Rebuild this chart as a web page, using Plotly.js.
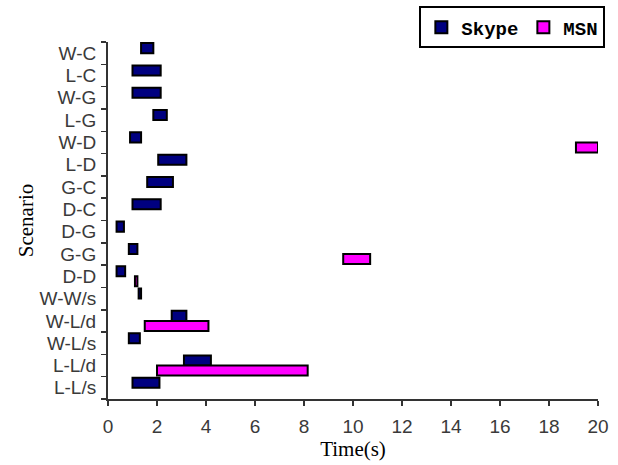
<!DOCTYPE html>
<html>
<head>
<meta charset="utf-8">
<script src="https://cdn.plot.ly/plotly-3.0.1.min.js"></script>
<style>html,body{margin:0;padding:0;background:#fff;}#chart{width:618px;height:465px;}</style>
</head>
<body>
<div id="chart"></div>
<script>
// Categories (top to bottom)
const scenarios = ["W-C","L-C","W-G","L-G","W-D","L-D","G-C","D-C","D-G","G-G","D-D","W-W/s","W-L/d","W-L/s","L-L/d","L-L/s"];
// Skype start / end times (s)
const skypeStart = [1.35, 1.0, 1.0, 1.85, 0.9, 2.05, 1.6, 1.0, 0.35, 0.85, 0.35, 1.25, 2.6, 0.85, 3.1, 1.0];
const skypeEnd   = [1.85, 2.15, 2.15, 2.4, 1.35, 3.2, 2.65, 2.15, 0.65, 1.2, 0.7, 1.35, 3.2, 1.3, 4.2, 2.1];
// MSN start / end times (s)
const msnStart = [null, null, null, null, 19.1, null, null, null, null, 9.6, 1.1, null, 1.5, null, 2.0, null];
const msnEnd   = [null, null, null, null, 20.0, null, null, null, null, 10.7, 1.2, null, 4.1, null, 8.15, null];
const xTicks = [0,2,4,6,8,10,12,14,16,18,20];

const dur = (s, e) => s.map((v, i) => (v === null || e[i] === null) ? null : e[i] - v);

const traces = [
  {
    type: 'bar', orientation: 'h', name: 'Skype',
    y: scenarios, x: dur(skypeStart, skypeEnd), base: skypeStart,
    marker: {color: '#000080', line: {color: '#000000', width: 2}}
  },
  {
    type: 'bar', orientation: 'h', name: 'MSN',
    y: scenarios, x: dur(msnStart, msnEnd), base: msnStart,
    marker: {color: '#ff00ff', line: {color: '#000000', width: 2}}
  }
];

const tickFont = {family: 'Liberation Sans, Arial, sans-serif', size: 19, color: '#3a3a3a'};
const layout = {
  width: 618, height: 465,
  margin: {l: 108, r: 20, t: 42, b: 66, autoexpand: false},
  paper_bgcolor: '#ffffff', plot_bgcolor: '#ffffff',
  barmode: 'group', bargap: 0.1, bargroupgap: 0,
  showlegend: true,
  legend: {
    orientation: 'h', x: 1.015, xanchor: 'right', y: 1.10, yanchor: 'top',
    bordercolor: '#000000', borderwidth: 2, bgcolor: '#ffffff',
    font: {family: 'Liberation Mono, DejaVu Sans Mono, monospace', size: 19, color: '#000', weight: 'bold'},
    traceorder: 'normal'
  },
  xaxis: {
    range: [0, 20], tickmode: 'array', tickvals: xTicks, ticktext: xTicks.map(String),
    ticks: 'outside', ticklen: 5, tickwidth: 1.5, tickcolor: '#333',
    showline: true, linecolor: '#333', linewidth: 2,
    showgrid: false, zeroline: false, tickfont: tickFont, automargin: false,
    ticklabelstandoff: 4,
    title: {text: 'Time(s)', font: {family: 'Liberation Serif, Times New Roman, serif', size: 21, color: '#000'}, standoff: 4}
  },
  yaxis: {
    type: 'category', categoryorder: 'array', categoryarray: scenarios,
    tickmode: 'array', tickvals: scenarios, ticktext: scenarios,
    autorange: 'reversed', tickson: 'boundaries',
    ticks: 'outside', ticklen: 5, tickwidth: 1.5, tickcolor: '#333',
    showline: true, linecolor: '#333', linewidth: 2,
    showgrid: false, zeroline: false, tickfont: tickFont, automargin: false,
    ticklabelstandoff: 6,
    title: {text: 'Scenario', font: {family: 'Liberation Serif, Times New Roman, serif', size: 21, color: '#000'}, standoff: 0}
  }
};

Plotly.newPlot('chart', traces, layout, {displayModeBar: false, staticPlot: true});
</script>
</body>
</html>
